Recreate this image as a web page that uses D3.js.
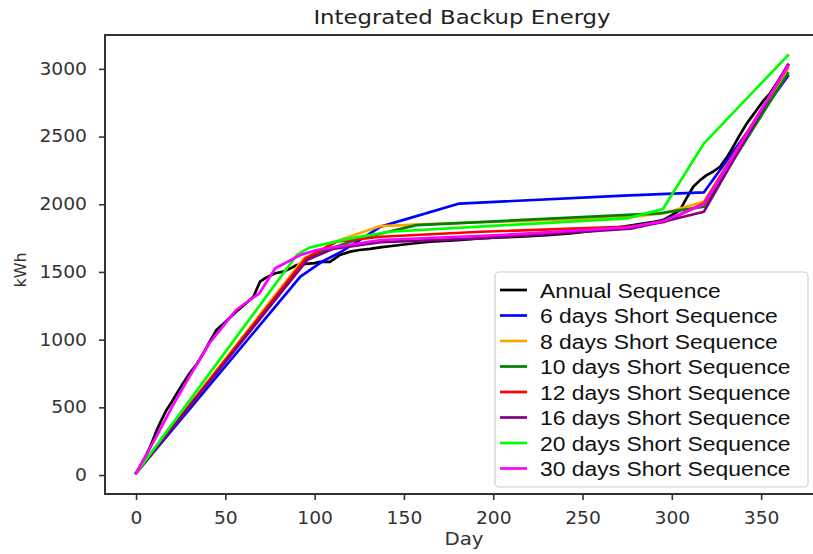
<!DOCTYPE html>
<html><head><meta charset="utf-8">
<script src="https://cdn.jsdelivr.net/npm/d3@7"></script>
<style>body{margin:0;background:#fff}svg{display:block}</style>
</head><body>
<svg id="c" width="813" height="554"></svg>
<script>
const title = "Integrated Backup Energy";
const xLabel = "Day", yLabel = "kWh";
const xTicks = [0, 50, 100, 150, 200, 250, 300, 350];
const yTicks = [0, 500, 1000, 1500, 2000, 2500, 3000];

const seriesNames = ["Annual Sequence","6 days Short Sequence","8 days Short Sequence","10 days Short Sequence","12 days Short Sequence","16 days Short Sequence","20 days Short Sequence","30 days Short Sequence"];
const seriesColors = ["#000000","#0000ff","#ffa500","#008000","#ff0000","#800080","#00ff00","#ff00ff"];

const annual = [[0,14],[5,130],[8,210],[11.6,332],[14,400],[17,480],[20,540],[22.8,603],[26,670],[30,751],[34,820],[37.7,899],[41,980],[45,1071],[50,1130],[56,1206],[60,1250],[65.7,1317],[69.4,1428],[73,1460],[78,1490],[82.5,1502],[87,1530],[90,1551],[95,1560],[100,1565],[103,1575],[108.6,1575],[114,1625],[120,1650],[125,1662],[131,1670],[136.6,1681],[142,1690],[147.8,1699],[155,1710],[164.6,1723],[180,1735],[192.6,1748],[203.8,1755],[215,1760],[230,1772],[243,1785],[260,1810],[278.5,1846],[290,1870],[295,1883],[300,1920],[304.6,1957],[308,2040],[312,2129],[316,2180],[319.5,2215],[323,2240],[327,2277],[331,2350],[334.4,2425],[338,2510],[342,2597],[347.5,2696],[351,2760],[355,2819],[360,2920],[365,3028]];
const days6 = [[0,14],[92,1465],[104,1575],[115,1650],[137,1835],[181,2005],[273,2063],[318,2088],[365,2947]];
const days8 = [[0,14],[94,1600],[104,1660],[114,1736],[137,1839],[160,1852],[276,1905],[296,1935],[318,2020],[365,3000]];
const days10 = [[0,14],[95,1590],[106,1660],[125,1745],[157,1846],[204,1876],[293,1933],[318,1982],[365,2966]];
const days12 = [[0,14],[95,1600],[112,1723],[137,1760],[193,1797],[277,1834],[296,1870],[318,2007],[365,3020]];
const days16 = [[0,14],[96,1590],[110,1670],[137,1720],[193,1748],[277,1820],[295,1871],[318,1945],[365,3030]];
const days20 = [[0,14],[90,1625],[97,1680],[120,1748],[142,1797],[275,1896],[295,1965],[318,2450],[365,3100]];
const days30 = [[0,14],[10,250],[20,500],[30,730],[41,972],[50,1120],[56,1219],[69,1342],[78,1527],[92,1625],[101,1662],[137,1736],[204,1773],[276,1830],[295,1875],[318,2000],[365,3020]];
const seriesData = [annual, days6, days8, days10, days12, days16, days20, days30];

const svg = d3.select("#c");
const x = d3.scaleLinear().domain([-17.4, 383.25]).range([105, 820.5]);
const y = d3.scaleLinear().domain([-140, 3250]).range([494, 35]);
const axisColor = "#333";

// lines
const line = d3.line().x(d=>x(d[0])).y(d=>y(d[1]));
seriesData.forEach((s,i)=>{
  svg.append("path").datum(s).attr("d", line)
    .attr("fill","none").attr("stroke", seriesColors[i]).attr("stroke-width",2.7)
    .attr("stroke-linejoin","round").attr("stroke-linecap","square");
});

// axes
const gx = svg.append("g").attr("transform","translate(0,494)")
  .call(d3.axisBottom(x).tickValues(xTicks).tickSize(6).tickPadding(8).tickFormat(d3.format("d")));
const gy = svg.append("g").attr("transform","translate(105,0)")
  .call(d3.axisLeft(y).tickValues(yTicks).tickSize(6).tickPadding(8).tickFormat(d3.format("d")));
[gx,gy].forEach(g=>{
  g.select(".domain").remove();
  g.selectAll(".tick line").attr("stroke",axisColor).attr("stroke-width",1.6);
  g.selectAll(".tick text").attr("fill","#333").style("font-family","DejaVu Sans").style("font-size","17px");
});
gx.selectAll(".tick text").attr("dy","0.95em").attr("transform","scale(1.1,1)").attr("x",0);
gy.selectAll(".tick text").each(function(){ const t=d3.select(this); const xx=+t.attr("x"); t.attr("transform","scale(1.1,1)").attr("x", (xx-4)/1.1); });

svg.append("rect").attr("x",105).attr("y",35).attr("width",716).attr("height",459)
  .attr("fill","none").attr("stroke",axisColor).attr("stroke-width",2);

// title and axis labels
svg.append("text").attr("x",462/1.14).attr("y",24).attr("text-anchor","middle")
  .attr("transform","scale(1.14,1)")
  .style("font-family","DejaVu Sans").style("font-size","20px").attr("fill","#222").text(title);
svg.append("text").attr("x",464/1.1).attr("y",545).attr("text-anchor","middle")
  .attr("transform","scale(1.1,1)")
  .style("font-family","DejaVu Sans").style("font-size","18px").attr("fill","#333").text(xLabel);
svg.append("text").attr("transform","translate(26,270) rotate(-90)").attr("text-anchor","middle")
  .style("font-family","DejaVu Sans").style("font-size","16px").attr("fill","#333").text(yLabel);

// legend
const lg = svg.append("g");
lg.append("rect").attr("x",495).attr("y",272).attr("width",313).attr("height",215).attr("rx",4)
  .attr("fill","#fff").attr("fill-opacity",0.85).attr("stroke","#d0d0d0").attr("stroke-width",1.2);
seriesNames.forEach((n,i)=>{
  const yy = 290 + i*25.5;
  lg.append("line").attr("x1",500).attr("x2",527).attr("y1",yy).attr("y2",yy)
    .attr("stroke",seriesColors[i]).attr("stroke-width",2.7);
  lg.append("text").attr("x",540/1.09).attr("y",yy).attr("dy","0.36em")
    .attr("transform","scale(1.09,1)")
    .style("font-family","Liberation Sans").style("font-size","21px").attr("fill","#111").text(n);
});
</script>
</body></html>
